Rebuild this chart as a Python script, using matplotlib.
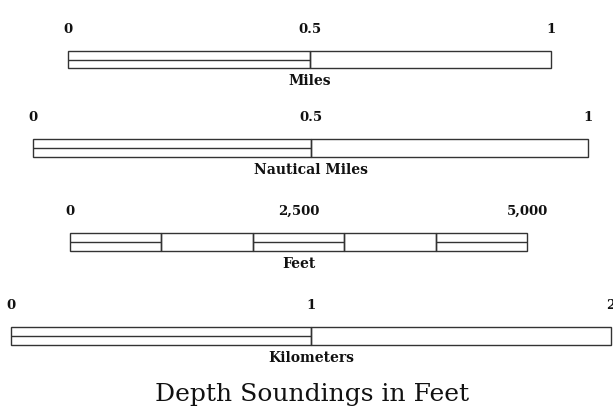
import matplotlib
matplotlib.use("Agg")
import matplotlib.pyplot as plt

W, H = 613, 417

# ── Scale data ─────────────────────────────────────────────────────────────
mile_edges = [0, 0.5, 1]
mile_ticks = [0, 0.5, 1]
mile_labels = ["0", "0.5", "1"]
mile_inner = [True, False]

naut_edges = [0, 0.5, 1]
naut_ticks = [0, 0.5, 1]
naut_labels = ["0", "0.5", "1"]
naut_inner = [True, False]

feet_edges = [0, 1000, 2000, 3000, 4000, 5000]
feet_ticks = [0, 2500, 5000]
feet_labels = ["0", "2,500", "5,000"]
feet_inner = [True, False, True, False, True]

km_edges = [0, 1, 2]
km_ticks = [0, 1, 2]
km_labels = ["0", "1", "2"]
km_inner = [True, False]

titles = ["Miles", "Nautical Miles", "Feet", "Kilometers"]

# pixel boxes (left, top, right, bottom)
boxes = [(68, 51, 551, 68), (33, 139, 588, 157),
         (70, 233, 527, 251), (11, 327, 611, 345)]

FONT = "DejaVu Serif"
LINE = "#333333"


def draw_scale(fig, box, edges, ticks, labels, inner, name):
    l, t, r, b = box
    ax = fig.add_axes([l / W, 1 - b / H, (r - l) / W, (b - t) / H])
    lefts = edges[:-1]
    widths = [e1 - e0 for e0, e1 in zip(edges[:-1], edges[1:])]
    ax.barh(0.5, widths, left=lefts, height=1, fill=False,
            edgecolor=LINE, linewidth=1.0, clip_on=False)
    for x0, w, on in zip(lefts, widths, inner):
        if on:
            ax.hlines(0.5, x0, x0 + w, color=LINE, linewidth=1.0)
    ax.set_xlim(edges[0], edges[-1])
    ax.set_ylim(0, 1)
    ax.xaxis.tick_top()
    ax.set_xticks(ticks, labels, fontweight="bold", family=FONT)
    ax.tick_params(axis="x", length=0, pad=11, labelsize=9.5, colors="#111111")
    ax.set_yticks([])
    ax.set_xlabel(name, fontweight="bold", family=FONT, fontsize=10,
                  color="#111111", labelpad=4)
    ax.xaxis.set_label_position("bottom")
    for s in ax.spines.values():
        s.set_visible(False)
    return ax


fig = plt.figure(figsize=(W / 100, H / 100), dpi=100)
fig.patch.set_facecolor("white")

draw_scale(fig, boxes[0], mile_edges, mile_ticks, mile_labels, mile_inner, titles[0])
draw_scale(fig, boxes[1], naut_edges, naut_ticks, naut_labels, naut_inner, titles[1])
draw_scale(fig, boxes[2], feet_edges, feet_ticks, feet_labels, feet_inner, titles[2])
draw_scale(fig, boxes[3], km_edges, km_ticks, km_labels, km_inner, titles[3])

fig.text(312 / W, 1 - 395 / H, "Depth Soundings in Feet", ha="center",
         va="center", family=FONT, fontsize=18, color="#111111")

fig.savefig("out.png", dpi=100, facecolor="white")
